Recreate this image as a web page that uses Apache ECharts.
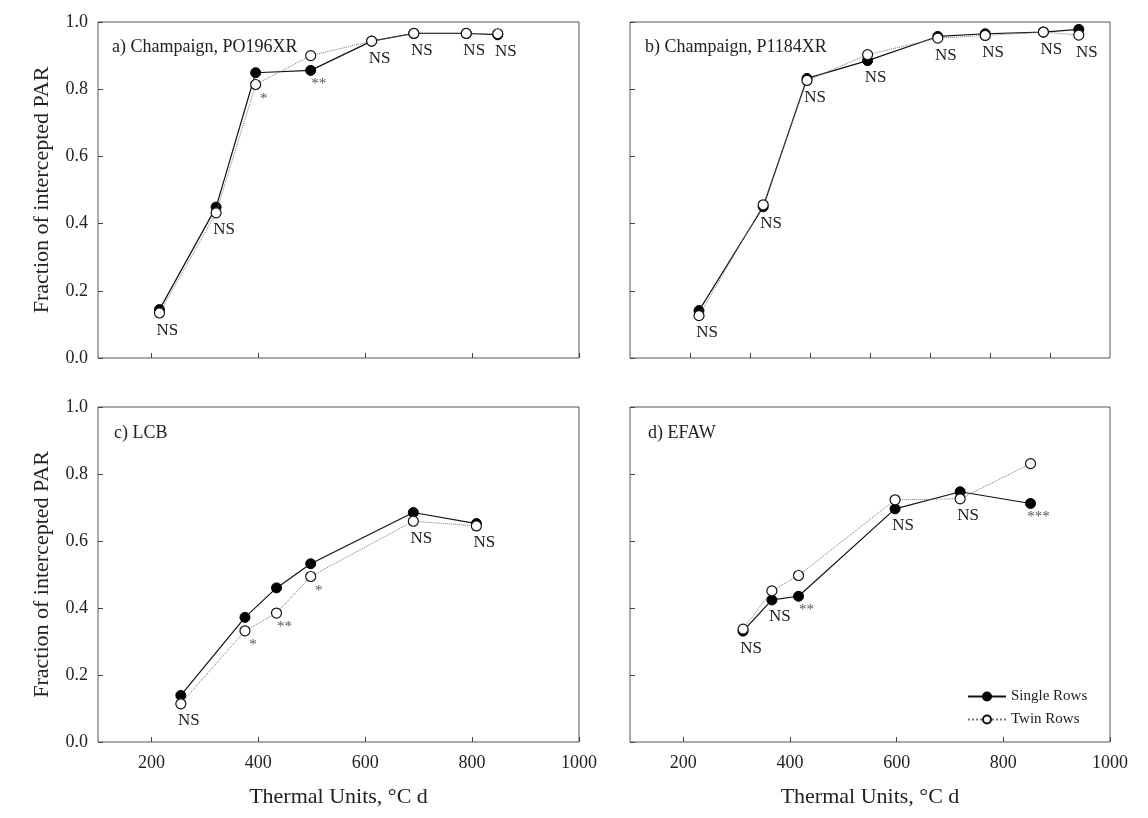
<!DOCTYPE html>
<html>
<head>
<meta charset="utf-8">
<script src="https://cdn.jsdelivr.net/npm/echarts@6/dist/echarts.min.js"></script>
<style>
html, body { margin: 0; padding: 0; background: #fff; }
#chart { width: 1148px; height: 818px; }
</style>
</head>
<body>
<div id="chart"></div>
<script>
// a) Champaign, PO196XR
var tuA = [215, 321, 395, 498, 612, 691, 789, 848];
var singleA = [0.144, 0.449, 0.849, 0.856, 0.943, 0.966, 0.966, 0.962];
var twinA = [0.134, 0.432, 0.814, 0.900, 0.943, 0.966, 0.966, 0.965];
var sigA = ['NS', 'NS', '*', '**', 'NS', 'NS', 'NS', 'NS'];
// b) Champaign, P1184XR
var tuB = [315, 422, 495, 596, 713, 792, 889, 948];
var singleB = [0.141, 0.450, 0.832, 0.885, 0.957, 0.965, 0.970, 0.978];
var twinB = [0.126, 0.456, 0.826, 0.903, 0.952, 0.960, 0.970, 0.961];
var sigB = ['NS', 'NS', 'NS', 'NS', 'NS', 'NS', 'NS', 'NS'];
// c) LCB
var tuC = [255, 375, 434, 498, 690, 808];
var singleC = [0.139, 0.372, 0.460, 0.532, 0.685, 0.652];
var twinC = [0.114, 0.332, 0.385, 0.494, 0.659, 0.645];
var sigC = ['NS', '*', '**', '*', 'NS', 'NS'];
// d) EFAW
var tuD = [312, 366, 416, 597, 719, 851];
var singleD = [0.331, 0.424, 0.435, 0.696, 0.747, 0.712];
var twinD = [0.337, 0.451, 0.497, 0.723, 0.726, 0.831];
var sigD = ['NS', 'NS', '**', 'NS', 'NS', '***'];

var panelNames = ['a) Champaign, PO196XR', 'b) Champaign, P1184XR', 'c) LCB', 'd) EFAW'];
var xTicks = [200, 400, 600, 800, 1000];
var xTicksB = [300, 400, 500, 600, 700, 800, 900];

var serif = '"Liberation Serif", "DejaVu Serif", serif';
var chart = echarts.init(document.getElementById('chart'));

var grids = [
    { left: 98, top: 22, width: 481, height: 336 },
    { left: 630, top: 22, width: 480, height: 336 },
    { left: 98, top: 407, width: 481, height: 335 },
    { left: 630, top: 407, width: 480, height: 335 }
];
grids.forEach(function (g) {
    g.show = true;
    g.borderColor = '#555';
    g.borderWidth = 1;
    g.backgroundColor = 'transparent';
});

function makeX(i) {
    var bottom = i >= 2;
    // panel b was drawn on its own scale, ticks only
    var ticks = i === 1 ? xTicksB : xTicks;
    return {
        gridIndex: i, type: 'value',
        min: i === 1 ? 200 : 100, max: 1000,
        axisLine: { show: false },
        axisTick: { show: true, inside: true, length: 5, lineStyle: { color: '#444' }, customValues: ticks },
        splitLine: { show: false },
        axisLabel: {
            show: bottom, margin: 12, fontSize: 18, fontFamily: serif, color: '#222',
            customValues: ticks,
            formatter: function (v) { return String(v); }
        },
        name: bottom ? 'Thermal Units, °C d' : '',
        nameLocation: 'middle', nameGap: 44,
        nameTextStyle: { fontSize: 22, fontFamily: serif, color: '#222' }
    };
}

function makeY(i) {
    var left = i % 2 === 0;
    return {
        gridIndex: i, type: 'value', min: 0, max: 1, interval: 0.2,
        axisLine: { show: false },
        axisTick: { show: true, inside: true, length: 5, lineStyle: { color: '#444' } },
        splitLine: { show: false },
        axisLabel: {
            show: left, margin: 10, fontSize: 18, fontFamily: serif, color: '#222',
            formatter: function (v) { return v.toFixed(1); }
        },
        name: left ? 'Fraction of intercepted PAR' : '',
        nameLocation: 'middle', nameGap: 45, nameRotate: 90,
        nameTextStyle: { fontSize: 22, fontFamily: serif, color: '#222' }
    };
}

// significance mark goes under the lower point of the pair
function points(tu, vals, lower, sig) {
    var out = [];
    for (var i = 0; i < tu.length; i++) {
        var item = { value: [tu[i], vals[i]] };
        if (lower[i]) {
            var star = sig[i].charAt(0) === '*';
            item.label = {
                show: true, position: 'bottom', distance: star ? 1 : 3, offset: [8, 0],
                formatter: sig[i], fontFamily: serif,
                fontSize: star ? 15 : 17, color: star ? '#555' : '#222'
            };
        }
        out.push(item);
    }
    return out;
}

var panels = [
    [tuA, singleA, twinA, sigA],
    [tuB, singleB, twinB, sigB],
    [tuC, singleC, twinC, sigC],
    [tuD, singleD, twinD, sigD]
];

var series = [];
panels.forEach(function (p, i) {
    var singleLower = p[1].map(function (v, k) { return v <= p[2][k]; });
    var twinLower = singleLower.map(function (b) { return !b; });
    series.push({
        name: 'Single Rows', type: 'line', xAxisIndex: i, yAxisIndex: i,
        symbol: 'circle', symbolSize: 10,
        itemStyle: { color: '#000', borderColor: '#000', borderWidth: 1 },
        lineStyle: { color: '#111', width: 1.2, type: 'solid' },
        data: points(p[0], p[1], singleLower, p[3]), z: 3
    });
    series.push({
        name: 'Twin Rows', type: 'line', xAxisIndex: i, yAxisIndex: i,
        symbol: 'circle', symbolSize: 10,
        itemStyle: { color: '#fff', borderColor: '#111', borderWidth: 1.2 },
        lineStyle: { color: '#777', width: 1, type: 'dotted' },
        data: points(p[0], p[2], twinLower, p[3]), z: 4
    });
});

var titles = [
    { text: panelNames[0], left: 107, top: 33 },
    { text: panelNames[1], left: 640, top: 33 },
    { text: panelNames[2], left: 109, top: 419 },
    { text: panelNames[3], left: 643, top: 419 }
];
titles.forEach(function (t) {
    t.textStyle = { fontSize: 18, fontWeight: 'normal', fontFamily: serif, color: '#222' };
});

chart.setOption({
    animation: false,
    backgroundColor: '#fff',
    title: titles,
    legend: {
        orient: 'vertical', left: 962, top: 684,
        itemWidth: 38, itemHeight: 10, itemGap: 8,
        textStyle: { fontSize: 15, fontFamily: serif, color: '#222' },
        data: ['Single Rows', 'Twin Rows']
    },
    grid: grids,
    xAxis: [makeX(0), makeX(1), makeX(2), makeX(3)],
    yAxis: [makeY(0), makeY(1), makeY(2), makeY(3)],
    series: series
});
</script>
</body>
</html>
